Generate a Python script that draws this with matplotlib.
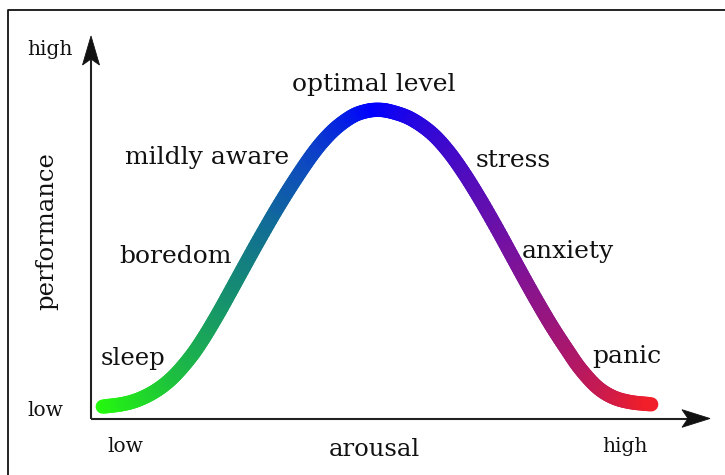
import numpy as np
import matplotlib
matplotlib.use("Agg")
import matplotlib.pyplot as plt
from matplotlib.collections import LineCollection
from matplotlib.colors import LinearSegmentedColormap
from matplotlib.lines import Line2D
from matplotlib.patches import Polygon
import matplotlib.transforms as mtransforms

# ---- data (arousal 0..100, performance 0..100) ----
arousal = [1.9, 5.2, 7.9, 10.7, 13.3, 16.0, 18.1, 20.4, 22.5, 24.7, 27.1, 30.1,
           33.0, 35.7, 37.8, 39.9, 42.3, 44.3, 46.2, 48.3, 51.5, 54.8, 57.5,
           60.1, 62.8, 65.6, 68.2, 70.4, 72.5, 74.6, 76.9, 79.0, 81.7, 84.3,
           87.1, 90.5]
performance = [3.1, 3.8, 5.1, 7.5, 10.9, 15.9, 20.8, 27.0, 33.1, 39.6, 46.6, 55.0,
               62.5, 68.9, 73.1, 76.4, 79.1, 80.3, 80.7, 80.3, 78.5, 74.9, 70.3,
               64.5, 57.5, 49.6, 41.9, 35.4, 29.4, 23.7, 18.0, 13.1, 8.3, 5.6,
               4.3, 3.7]
zone_labels = ["sleep", "boredom", "mildly aware", "optimal level",
               "stress", "anxiety", "panic"]
axis_ends = ["low", "high"]
x_title = "arousal"
y_title = "performance"

W, H = 725, 475
fig = plt.figure(figsize=(W / 100, H / 100), dpi=100)
ax = fig.add_axes([91 / W, 56.5 / H, (710 - 91) / W, (439 - 56.5) / H])
ax.set_xlim(0, 100)
ax.set_ylim(0, 100)
ax.axis("off")

FONT = ["DejaVu Serif"]
INK = "#111111"

def px(x, y):
    return x / W, 1 - y / H

# frame (cropped border)
fig.add_artist(Line2D([7.5 / W, 7.5 / W, 1.0], [0, 1 - 10 / H, 1 - 10 / H],
                      color=INK, lw=1.3, transform=fig.transFigure))

# axes lines
ax.plot([0, 0], [0, 97], color="#222222", lw=1.5, clip_on=False, solid_capstyle="butt")
ax.plot([0, 97], [0, 0], color="#222222", lw=1.5, clip_on=False, solid_capstyle="butt")

# arrow heads (offsets in pixels)
def head(tipx, tipy, verts):
    tr = mtransforms.Affine2D().scale(1 / 100.0) + fig.dpi_scale_trans + \
        mtransforms.ScaledTranslation(tipx, tipy, ax.transData)
    ax.add_patch(Polygon(verts, closed=True, transform=tr, facecolor=INK,
                         edgecolor=INK, lw=0.6, clip_on=False, zorder=5))

head(0, 100, [(0, 0), (-8.5, -29), (0, -23), (8.5, -29)])
head(100, 0, [(0, 0), (-28, 8.8), (-22, 0), (-28, -8.8)])

# ---- smooth gradient curve through the read points ----
cmap = LinearSegmentedColormap.from_list(
    "yd", [(0.0, (0.14, 0.98, 0.05)),
           (0.12, (0.12, 0.78, 0.22)),
           (0.25, (0.08, 0.53, 0.47)),
           (0.38, (0.05, 0.28, 0.76)),
           (0.5, (0.0, 0.0, 1.0)),
           (0.75, (0.47, 0.07, 0.62)),
           (1.0, (0.94, 0.12, 0.16))])

P = np.column_stack([arousal, performance]).astype(float)
n = len(P)
tang = np.zeros_like(P)
tang[1:-1] = (P[2:] - P[:-2]) / 2.0
tang[0] = P[1] - P[0]
tang[-1] = P[-1] - P[-2]
peak_x = P[int(np.argmax(P[:, 1])), 0]

def cval(x):
    if x <= peak_x:
        return 0.5 * (x - P[0, 0]) / (peak_x - P[0, 0])
    return 0.5 + 0.5 * (x - peak_x) / (P[-1, 0] - peak_x)

t = np.linspace(0, 1, 9)[:, None]
segs, cols = [], []
for i in range(n - 1):
    p0, p3 = P[i], P[i + 1]
    c1, c2 = p0 + tang[i] / 3.0, p3 - tang[i + 1] / 3.0
    B = ((1 - t) ** 3) * p0 + 3 * ((1 - t) ** 2) * t * c1 + 3 * (1 - t) * t ** 2 * c2 + t ** 3 * p3
    for k in range(len(B) - 1):
        segs.append([B[k], B[k + 1]])
        cols.append(cmap(cval(0.5 * (B[k, 0] + B[k + 1, 0]))))

lc = LineCollection(segs, colors=cols, linewidths=10.3, capstyle="round",
                    joinstyle="round", clip_on=False, zorder=3)
ax.add_collection(lc)

# zone labels (left x, baseline y in pixels)
label_pos = [(101, 365), (119, 263), (125, 164), (292, 91), (476, 167), (522, 258), (592, 363)]
sizes = [17.5, 18, 18, 18, 18, 18, 18]
for lab, (lx, ly), s in zip(zone_labels, label_pos, sizes):
    fig.text(*px(lx, ly), lab, family=FONT, fontsize=s, ha="left", va="baseline", color=INK)

# axis end labels
fig.text(*px(27, 55), axis_ends[1], family=FONT, fontsize=14.5, ha="left", va="baseline", color=INK)
fig.text(*px(27, 416), axis_ends[0], family=FONT, fontsize=14.5, ha="left", va="baseline", color=INK)
fig.text(*px(107, 452), axis_ends[0], family=FONT, fontsize=14.5, ha="left", va="baseline", color=INK)
fig.text(*px(602, 452), axis_ends[1], family=FONT, fontsize=14.5, ha="left", va="baseline", color=INK)

fig.text(*px(374, 456), x_title, family=FONT, fontsize=17.5, ha="center", va="baseline", color=INK)
fig.text(*px(47, 231), y_title, family=FONT, fontsize=17.5, ha="center", va="center",
         rotation=90, color=INK)

fig.savefig("out.png", dpi=100)
